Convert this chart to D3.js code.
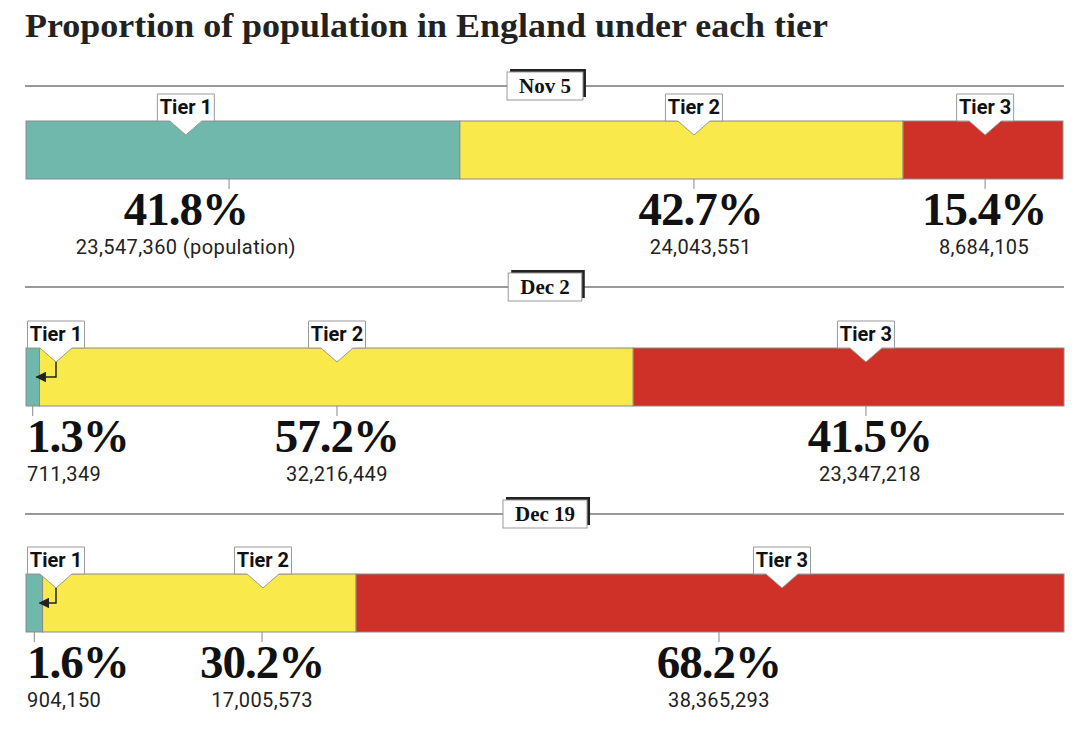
<!DOCTYPE html>
<html>
<head>
<meta charset="utf-8">
<script src="https://cdn.jsdelivr.net/npm/d3@7"></script>
<style>
  body { margin: 0; background: #fff; }
  svg { display: block; }
</style>
</head>
<body>
<svg id="chart"></svg>
<script>
// data
const dates = ["Nov 5", "Dec 2", "Dec 19"];
const tiers = ["Tier 1", "Tier 2", "Tier 3"];
const shareNov5 = [41.8, 42.7, 15.4];
const shareDec2 = [1.3, 57.2, 41.5];
const shareDec19 = [1.6, 30.2, 68.2];
const popNov5 = [23547360, 24043551, 8684105];
const popDec2 = [711349, 32216449, 23347218];
const popDec19 = [904150, 17005573, 38365293];

// where the annotations sit along each bar, in bar units (0-100)
const labelAt = [[15.4, 64.35, 92.4], [2.89, 29.96, 80.92], [2.89, 22.83, 72.83]];
const tickAt = [[19.56, 64.35, 92.4], [0.65, 29.96, 80.92], [0.8, 22.74, 66.76]];
const textAt = [[15.4, 65.0, 92.3], [0.1, 29.96, 81.3], [0.1, 22.74, 66.76]];

const shares = [shareNov5, shareDec2, shareDec19];
const pops = [popNov5, popDec2, popDec19];

const width = 1080, height = 740;
const margin = { left: 26, right: 16 };
const barH = 58;
// rule line y and bar top y for each panel
const panels = [
  { rule: 86, top: 121 },
  { rule: 287, top: 348 },
  { rule: 514, top: 574 }
];

const color = d3.scaleOrdinal().domain(tiers).range(["#6fb8ab", "#f9e94b", "#cf3027"]);
const x = d3.scaleLinear().domain([0, 100]).range([margin.left, width - margin.right]);
const fmt = d3.format(",");

const svg = d3.select("#chart").attr("width", width).attr("height", height);

svg.append("defs").append("marker")
  .attr("id", "arrow")
  .attr("viewBox", "0 0 10 10")
  .attr("refX", 9).attr("refY", 5)
  .attr("markerWidth", 7).attr("markerHeight", 7)
  .attr("orient", "auto")
  .append("path")
  .attr("d", "M0,0 L10,5 L0,10 Z")
  .attr("fill", "#222");

svg.append("text")
  .attr("x", 25)
  .attr("y", 37)
  .attr("textLength", 803)
  .attr("lengthAdjust", "spacingAndGlyphs")
  .style("font-family", "'Liberation Serif', serif")
  .style("font-weight", "bold")
  .style("font-size", "33px")
  .style("fill", "#222")
  .text("Proportion of population in England under each tier");

panels.forEach((p, i) => {
  const g = svg.append("g");
  const share = shares[i];
  const cum = d3.cumsum(share);
  const segs = share.map((s, j) => ({ tier: tiers[j], x0: j ? cum[j - 1] : 0, x1: cum[j] }));
  const bottom = p.top + barH;

  // rule + date box
  g.append("line")
    .attr("x1", x(0) - 1).attr("x2", x(100))
    .attr("y1", p.rule).attr("y2", p.rule)
    .attr("stroke", "#777").attr("stroke-width", 1.5);

  const dateText = g.append("text")
    .attr("x", 545).attr("y", p.rule + 7)
    .attr("text-anchor", "middle")
    .style("font-family", "'Liberation Serif', serif")
    .style("font-weight", "bold")
    .style("font-size", "21px")
    .style("fill", "#111")
    .text(dates[i]);
  const tw = dateText.node().getComputedTextLength() + 24;
  g.insert("rect", "text")
    .attr("x", 545 - tw / 2 + 3).attr("y", p.rule - 17)
    .attr("width", tw).attr("height", 28)
    .attr("fill", "#222");
  g.insert("rect", "text")
    .attr("x", 545 - tw / 2).attr("y", p.rule - 14)
    .attr("width", tw).attr("height", 28)
    .attr("fill", "#fff").attr("stroke", "#999");

  // bar segments
  g.selectAll("rect.seg")
    .data(segs)
    .join("rect")
    .attr("class", "seg")
    .attr("x", d => x(d.x0))
    .attr("y", p.top)
    .attr("width", d => x(d.x1) - x(d.x0))
    .attr("height", barH)
    .attr("fill", d => color(d.tier))
    .attr("stroke", "#8a8a8a")
    .attr("stroke-width", 1);

  segs.forEach((d, j) => {
    const px = x(labelAt[i][j]);
    const bw = 57, bt = p.top - 27;

    // label box with pointer
    g.append("path")
      .attr("d", `M${px - bw / 2},${p.top} V${bt} H${px + bw / 2} V${p.top} H${px + 16} L${px},${p.top + 14} L${px - 16},${p.top} Z`)
      .attr("fill", "#fff")
      .attr("stroke", "#999")
      .attr("stroke-width", 1);
    g.append("text")
      .attr("x", px).attr("y", p.top - 7)
      .attr("text-anchor", "middle")
      .style("font-family", "Roboto, sans-serif")
      .style("font-weight", "bold")
      .style("font-size", "20px")
      .style("fill", "#111")
      .text(d.tier);

    // elbow arrow when the pointer falls outside its own segment
    if (labelAt[i][j] > d.x1) {
      g.append("path")
        .attr("d", `M${px},${p.top + 14} V${p.top + 29} H${x(d.x1) - 3}`)
        .attr("fill", "none")
        .attr("stroke", "#222")
        .attr("stroke-width", 1.5)
        .attr("marker-end", "url(#arrow)");
    }

    // tick under the bar
    g.append("line")
      .attr("x1", x(tickAt[i][j])).attr("x2", x(tickAt[i][j]))
      .attr("y1", bottom).attr("y2", bottom + 10)
      .attr("stroke", "#888").attr("stroke-width", 1);

    const tx = x(textAt[i][j]);
    const anchor = labelAt[i][j] > d.x1 ? "start" : "middle";
    g.append("text")
      .attr("x", tx).attr("y", bottom + 46)
      .attr("text-anchor", anchor)
      .style("font-family", "'Liberation Serif', serif")
      .style("font-weight", "bold")
      .style("font-size", "47px")
      .style("letter-spacing", "-1px")
      .style("fill", "#111")
      .text(share[j].toFixed(1) + "%");
    g.append("text")
      .attr("x", tx).attr("y", bottom + 75)
      .attr("text-anchor", anchor)
      .style("font-family", "Roboto, sans-serif")
      .style("font-size", "20px")
      .style("letter-spacing", "0.4px")
      .style("fill", "#222")
      .text(fmt(pops[i][j]) + (i === 0 && j === 0 ? " (population)" : ""));
  });
});
</script>
</body>
</html>
